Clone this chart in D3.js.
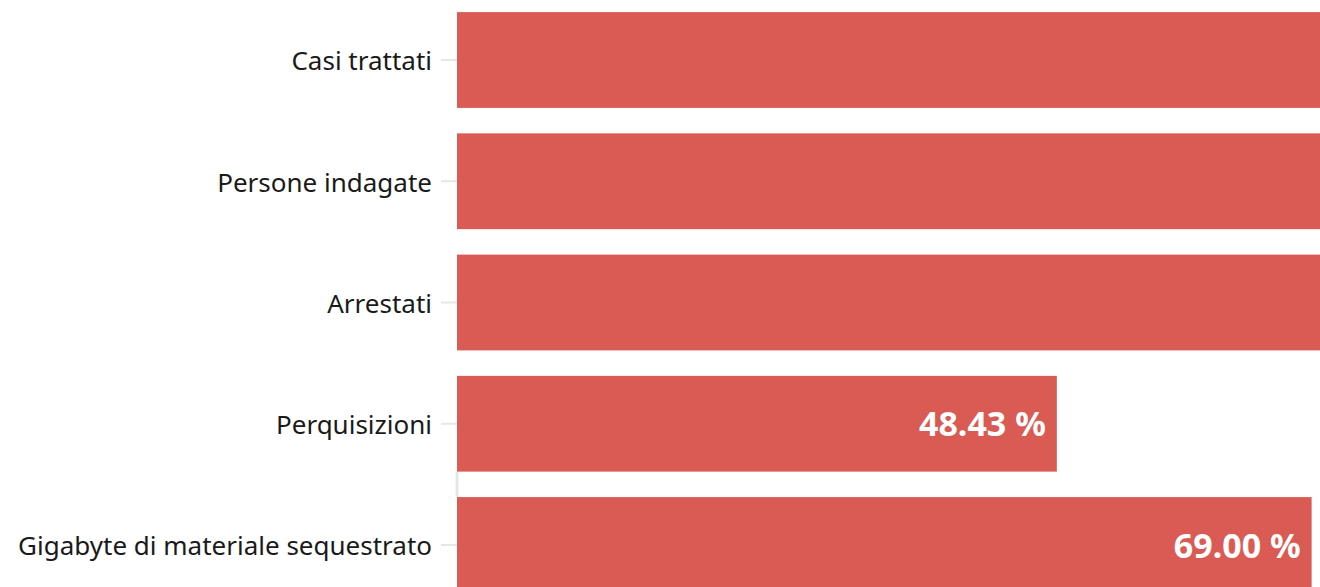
<!DOCTYPE html>
<html>
<head>
<meta charset="utf-8">
<script src="https://cdn.jsdelivr.net/npm/d3@7"></script>
<style>
  html, body { margin: 0; padding: 0; background: #fff; overflow: hidden; }
  svg { display: block; font-family: "Noto Sans", "Lato", sans-serif; }
</style>
</head>
<body>
<script>
// categories and values (percent). The first three bars run past the right edge,
// so their values are only estimates above ~70
var categories = ["Casi trattati", "Persone indagate", "Arrestati", "Perquisizioni", "Gigabyte di materiale sequestrato"];
var values = [112.5, 98.2, 87.6, 48.43, 69.00];

var width = 1320,
    height = 587;
var marginLeft = 457;

var svg = d3.select('body').append('svg')
    .attr('width', width)
    .attr('height', height);

var x = d3.scaleLinear()
    .domain([0, 70])
    .range([0, 867]);

var y = d3.scaleBand()
    .domain(categories)
    .range([0, 605])
    .paddingInner(0.21)
    .paddingOuter(0.1);

var g = svg.append('g')
    .attr('transform', 'translate(' + marginLeft + ',0)');

// only a short bit of the axis line shows, in the gap above the last bar
g.append('line')
    .attr('x1', 0).attr('x2', 0)
    .attr('y1', y(categories[3]) + y.bandwidth())
    .attr('y2', y(categories[4]))
    .attr('stroke', '#e6e6e6')
    .attr('stroke-width', 3);

var yAxis = g.append('g')
    .call(d3.axisLeft(y).tickSize(16).tickPadding(9));
yAxis.select('.domain').remove();
yAxis.selectAll('.tick line').attr('stroke', '#e6e6e6').attr('stroke-width', 2);
yAxis.selectAll('.tick text')
    .attr('fill', '#1a1a1a')
    .attr('dy', '0.4em')
    .style('font-size', '26px')
    .style('font-family', '"Noto Sans", "Lato", sans-serif');

var data = categories.map(function(c, i) { return { name: c, value: values[i] }; });

g.selectAll('rect.bar')
  .data(data)
  .enter().append('rect')
    .attr('class', 'bar')
    .attr('x', 0)
    .attr('y', function(d) { return y(d.name); })
    .attr('width', function(d) { return x(d.value); })
    .attr('height', y.bandwidth())
    .attr('fill', '#d95b53');

// labels of bars that run off the page are not visible, skip them
g.selectAll('text.val')
  .data(data.filter(function(d) { return x(d.value) <= width - marginLeft; }))
  .enter().append('text')
    .attr('class', 'val')
    .attr('x', function(d) { return x(d.value) - 11; })
    .attr('y', function(d) { return y(d.name) + y.bandwidth() / 2; })
    .attr('dy', '0.37em')
    .attr('text-anchor', 'end')
    .attr('fill', '#fff')
    .style('font-size', '34px')
    .style('font-weight', 'bold')
    .text(function(d) { return d.value.toFixed(2) + ' %'; });
</script>
</body>
</html>
